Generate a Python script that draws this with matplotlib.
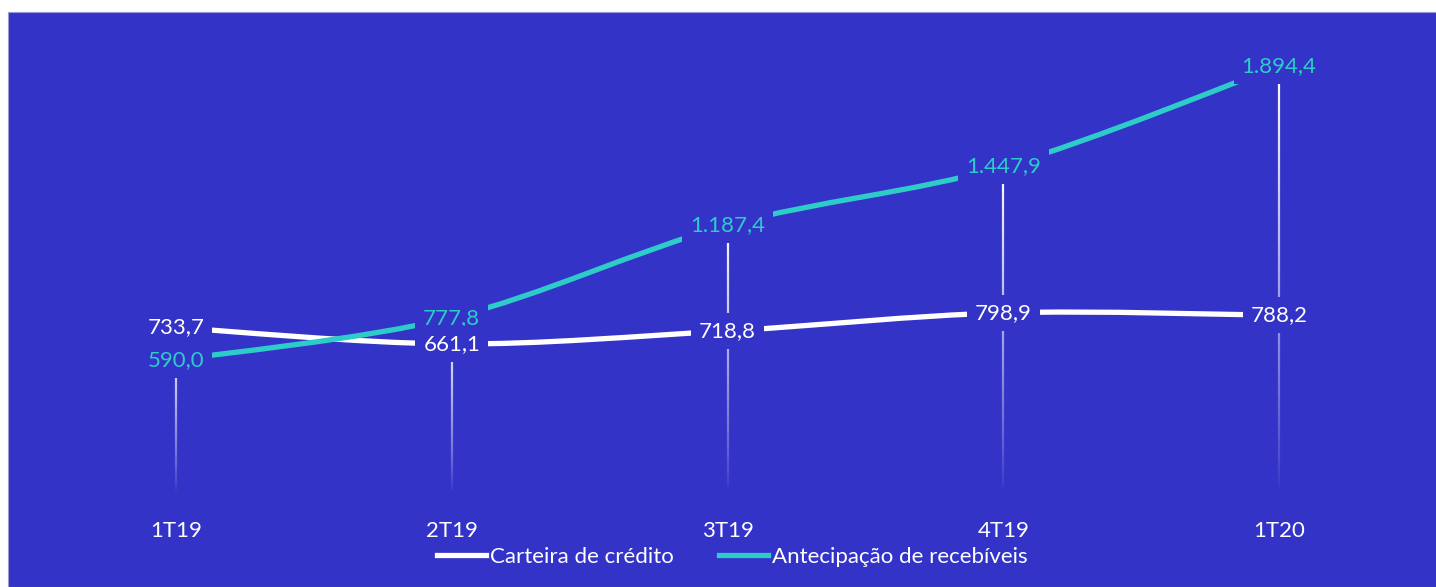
import numpy as np
import matplotlib.pyplot as plt
from matplotlib.path import Path
from matplotlib.patches import PathPatch, Rectangle
from matplotlib.collections import LineCollection
from matplotlib.lines import Line2D

quarters = ['1T19', '2T19', '3T19', '4T19', '1T20']
carteira = [733.7, 661.1, 718.8, 798.9, 788.2]
antecipacao = [590.0, 777.8, 1187.4, 1447.9, 1894.4]

BG = '#3333C8'
TEAL = '#2ECCC8'
plt.rcParams['font.family'] = ['Lato', 'DejaVu Sans']


def fmt_br(v):
    # 1894.4 -> "1.894,4"
    return f'{v:,.1f}'.replace(',', 'X').replace('.', ',').replace('X', '.')


def smooth_path(xs, ys):
    # cubic bezier through the points (Excel style smoothing)
    pts = np.column_stack([xs, ys]).astype(float)
    n = len(pts)
    verts = [pts[0]]
    codes = [Path.MOVETO]
    for i in range(n - 1):
        p0 = pts[i - 1] if i > 0 else pts[i]
        p1, p2 = pts[i], pts[i + 1]
        p3 = pts[i + 2] if i + 2 < n else pts[i + 1]
        c1 = p1 + (p2 - p0) / 6.0
        c2 = p2 - (p3 - p1) / 6.0
        verts += [c1, c2, p2]
        codes += [Path.CURVE4] * 3
    return Path(verts, codes)


fig = plt.figure(figsize=(14.36, 5.87), dpi=100, facecolor='white')
fig.patches.append(Rectangle((8 / 1436, 0), 1, (587 - 12) / 587,
                             transform=fig.transFigure, facecolor=BG,
                             edgecolor='#9A9AD8', lw=0.8, zorder=-5))

ax = fig.add_axes([38 / 1436, (587 - 493) / 587, (1417 - 38) / 1436, (493 - 42) / 587])
ax.set_zorder(2)
ax.set_facecolor('none')
x = np.arange(len(quarters))
ax.set_xlim(-0.5, len(quarters) - 0.5)
ax.set_ylim(0, 2000)

# drop lines, fading towards the axis
for xi, a, b in zip(x, carteira, antecipacao):
    top = max(a, b)
    yy = np.linspace(0, top, 80)
    segs = [[(xi, yy[k]), (xi, yy[k + 1])] for k in range(len(yy) - 1)]
    alphas = np.linspace(0, 1, len(segs)) ** 0.8
    cols = [(1, 1, 1, al) for al in alphas]
    ax.add_collection(LineCollection(segs, colors=cols, linewidths=1.6, zorder=1))

ax.add_patch(PathPatch(smooth_path(x, carteira), facecolor='none',
                       edgecolor='white', lw=3.8, capstyle='butt', zorder=2))
ax.add_patch(PathPatch(smooth_path(x, antecipacao), facecolor='none',
                       edgecolor=TEAL, lw=3.8, capstyle='butt', zorder=3))

box = dict(boxstyle='square,pad=0.35', facecolor=BG, edgecolor='none')
for xi, v in zip(x, antecipacao):
    ax.text(xi, v, fmt_br(v), color=TEAL, fontsize=16, ha='center',
            va='center', bbox=box, zorder=5)
for xi, v in zip(x, carteira):
    ax.text(xi, v, fmt_br(v), color='white', fontsize=16, ha='center',
            va='center', bbox=box, zorder=6)

ax.set_xticks(x)
ax.set_xticklabels(quarters, color='white', fontsize=16)
ax.tick_params(axis='x', length=0, pad=20)
ax.set_yticks([])
for s in ax.spines.values():
    s.set_visible(False)

handles = [Line2D([], [], color='white', lw=3.8),
           Line2D([], [], color=TEAL, lw=3.8)]
fig.legend(handles, ['Carteira de crédito', 'Antecipação de recebíveis'],
           loc='center', bbox_to_anchor=(0.51, 0.051), ncol=2, frameon=False,
           fontsize=16, labelcolor='white', handlelength=2.2,
           handletextpad=0.2, columnspacing=2.0)

fig.savefig('out.png', dpi=100, facecolor='white')
